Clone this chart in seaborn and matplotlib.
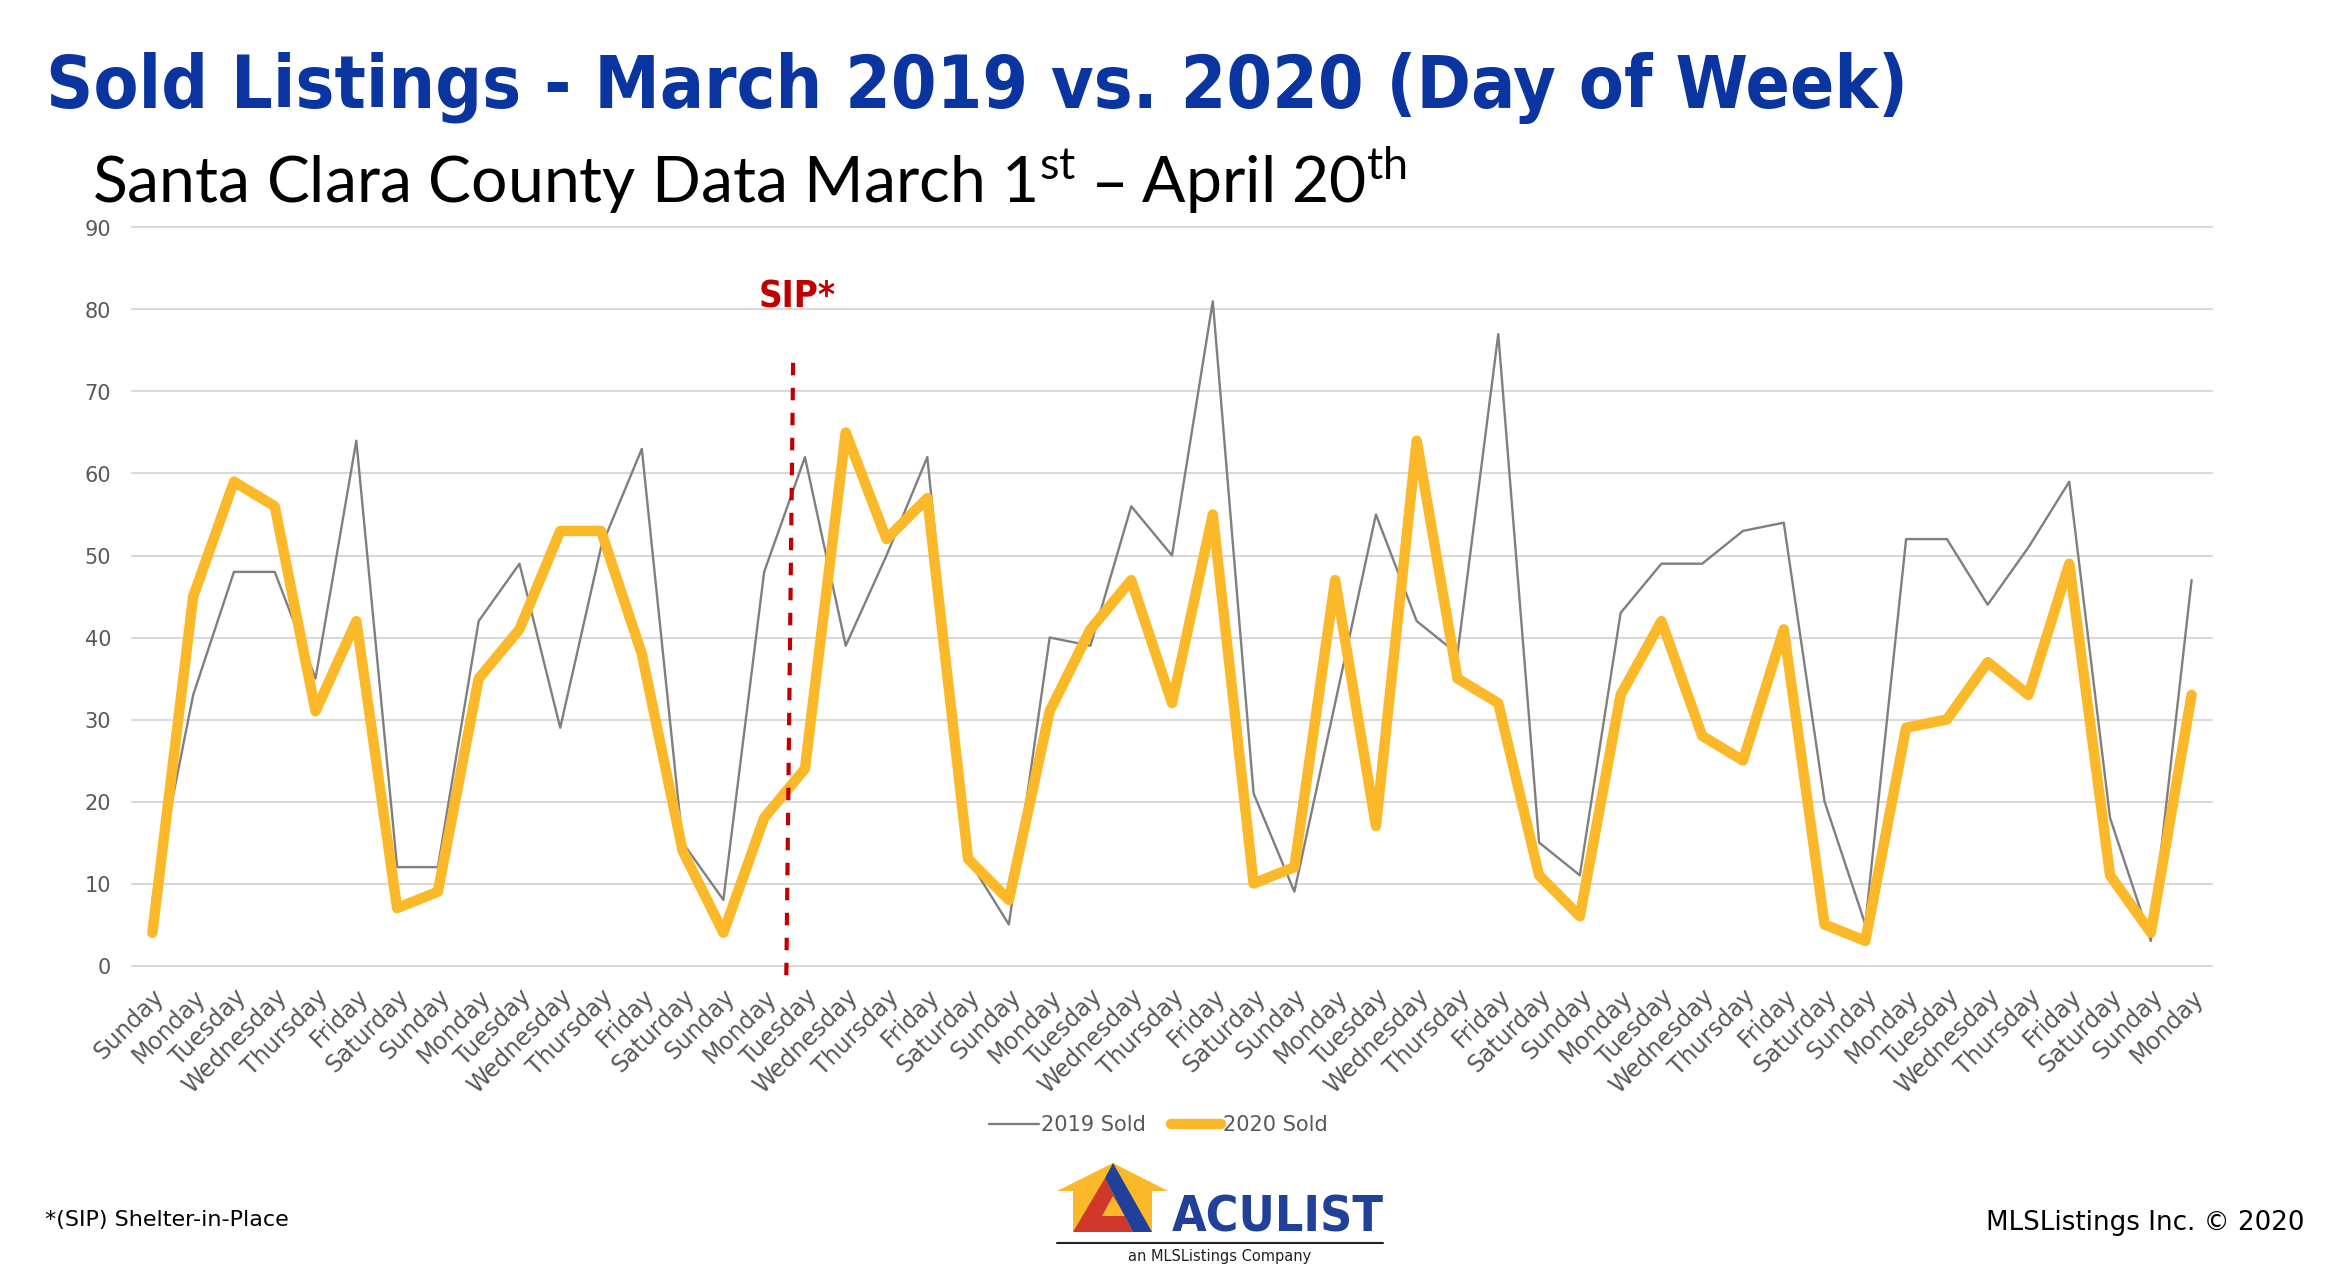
import matplotlib
matplotlib.use("Agg")
import matplotlib.pyplot as plt
from matplotlib import font_manager
from matplotlib.font_manager import FontProperties
from matplotlib.patches import Polygon
from matplotlib.lines import Line2D
import pandas as pd
import seaborn as sns

# data (Santa Clara County, March 1st - April 20th)
week = ["Sunday", "Monday", "Tuesday", "Wednesday", "Thursday", "Friday", "Saturday"]
days = week * 7 + week[:2]
sold_2019 = [8, 33, 48, 48, 35, 64, 12, 12, 42, 49, 29, 51, 63, 15, 8, 48, 62,
             39, 50, 62, 13, 5, 40, 39, 56, 50, 81, 21, 9, 32, 55, 42, 38, 77,
             15, 11, 43, 49, 49, 53, 54, 20, 5, 52, 52, 44, 51, 59, 18, 3, 47]
sold_2020 = [4, 45, 59, 56, 31, 42, 7, 9, 35, 41, 53, 53, 38, 14, 4, 18, 24,
             65, 52, 57, 13, 8, 31, 41, 47, 32, 55, 10, 12, 47, 17, 64, 35, 32,
             11, 6, 33, 42, 28, 25, 41, 5, 3, 29, 30, 37, 33, 49, 11, 4, 33]

# shelter-in-place marker (drawn slightly slanted like the slide)
sip_top = (15.71, 73.5)
sip_bottom = (15.54, -2.7)

W, H = 2347, 1268


def has_font(name):
    try:
        font_manager.findfont(FontProperties(family=name), fallback_to_default=False)
        return True
    except ValueError:
        return False


def narrow_bold():
    # look for any condensed / narrow bold face, fall back to DejaVu bold
    best = None
    for f in font_manager.fontManager.ttflist:
        narrow = ("Narrow" in f.name or "Condensed" in f.name
                  or "condensed" in str(f.stretch) or "Condensed" in f.fname)
        bold = f.weight in (700, "bold") or "Bold" in f.fname
        if narrow and bold and "Italic" not in f.fname and f.style == "normal":
            if "Extra" in f.fname or "Ultra" in f.fname:
                continue
            best = f.fname
            if "Semi" not in f.fname:
                break
    if best:
        return FontProperties(fname=best)
    return FontProperties(family="DejaVu Sans", weight="bold")


BOLD_NARROW = narrow_bold()
LIGHT = "Lato" if has_font("Lato") else "DejaVu Sans"

sns.set_style("white")
plt.rcParams["font.family"] = ["DejaVu Sans"]


def fx(x):
    return x / W


def fy(y):
    return 1 - y / H


fig = plt.figure(figsize=(W / 100, H / 100), dpi=100)
ax = fig.add_axes([fx(132), fy(965.5), (2212 - 132) / W, (965.5 - 227.5) / H])

df = pd.DataFrame({"idx": range(len(days)), "day": days,
                   "2019 Sold": sold_2019, "2020 Sold": sold_2020})

sns.lineplot(data=df, x="idx", y="2019 Sold", color="#7F7F7F", linewidth=1.7,
             label="2019 Sold", errorbar=None, ax=ax)
sns.lineplot(data=df, x="idx", y="2020 Sold", color="#FBB829", linewidth=7.5,
             label="2020 Sold", errorbar=None, ax=ax,
             solid_capstyle="round", solid_joinstyle="round")

ax.set_xlim(-0.5, len(days) - 0.5)
ax.set_ylim(0, 90)
ax.set_yticks(range(0, 91, 10))
ax.set_xticks(df["idx"])
ax.set_xticklabels(days, rotation=45, ha="right", va="top", rotation_mode="anchor")
ax.set_xlabel("")
ax.set_ylabel("")
ax.grid(axis="y", color="#D9D9D9", linewidth=1.5)
ax.grid(axis="x", visible=False)
ax.set_axisbelow(True)
for line in ax.get_ygridlines():
    line.set_clip_on(False)
for s in ax.spines.values():
    s.set_visible(False)
ax.tick_params(axis="both", length=0, colors="#595959")
ax.tick_params(axis="y", pad=15, labelsize=15)
ax.tick_params(axis="x", pad=14, labelsize=17)

renderer = fig.canvas.get_renderer()


def fit_width(t, width_px):
    w = t.get_window_extent(renderer).width
    t.set_fontsize(t.get_fontsize() * width_px / w)


# SIP marker
ax.plot([sip_top[0], sip_bottom[0]], [sip_top[1], sip_bottom[1]], color="#C00000",
        linewidth=3, linestyle=(0, (3, 3)), clip_on=False)
sip = ax.text(15.8, 80.3, "SIP*", color="#C00000", fontproperties=BOLD_NARROW,
              fontsize=33, ha="center", va="baseline")
fit_width(sip, 77)

ax.legend(loc="center", bbox_to_anchor=(fx(1158), fy(1125)),
          bbox_transform=fig.transFigure, ncol=2, frameon=False, fontsize=15,
          handlelength=2.4, handletextpad=0.1, columnspacing=1.2,
          labelcolor="#595959")

title = fig.text(fx(46), fy(108), "Sold Listings - March 2019 vs. 2020 (Day of Week)",
                 color="#0A35A0", fontproperties=BOLD_NARROW, fontsize=58,
                 va="baseline")
fit_width(title, 1862)

sub = fig.text(fx(92), fy(203),
               r"Santa Clara County Data March 1$\mathregular{^{st}}$ – April 20$\mathregular{^{th}}$",
               color="black", fontsize=43, family=LIGHT, va="baseline")
fit_width(sub, 1315)

fig.text(fx(45), fy(1220), "*(SIP) Shelter-in-Place", fontsize=16, color="black",
         va="center")
fig.text(fx(2305), fy(1223), "MLSListings Inc. © 2020", fontsize=18.8, color="black",
         ha="right", va="center")


# ACULIST logo
def poly(pts, color):
    fig.patches.append(Polygon([(fx(x), fy(y)) for x, y in pts], closed=True,
                               facecolor=color, edgecolor="none",
                               transform=fig.transFigure))


poly([(1057, 1191), (1113, 1163), (1168, 1191), (1152, 1191), (1152, 1232),
      (1073, 1232), (1073, 1191)], "#FBB829")
poly([(1073, 1232), (1105, 1178), (1133, 1232)], "#D0382B")
poly([(1102, 1216), (1113, 1196), (1125, 1216)], "#FBB829")
poly([(1105, 1178), (1113, 1163), (1152, 1232), (1133, 1232)], "#21409A")
logo = fig.text(fx(1172), fy(1232), "ACULIST", color="#21409A",
                fontproperties=BOLD_NARROW, fontsize=39, va="baseline")
fit_width(logo, 212)
fig.lines.append(Line2D([fx(1057), fx(1383)], [fy(1243), fy(1243)], color="#222222",
                        linewidth=1.5, transform=fig.transFigure))
fig.text(fx(1220), fy(1249), "an MLSListings Company", fontsize=10.5, color="#222222",
         ha="center", va="top")

fig.savefig("out.png", dpi=100)
